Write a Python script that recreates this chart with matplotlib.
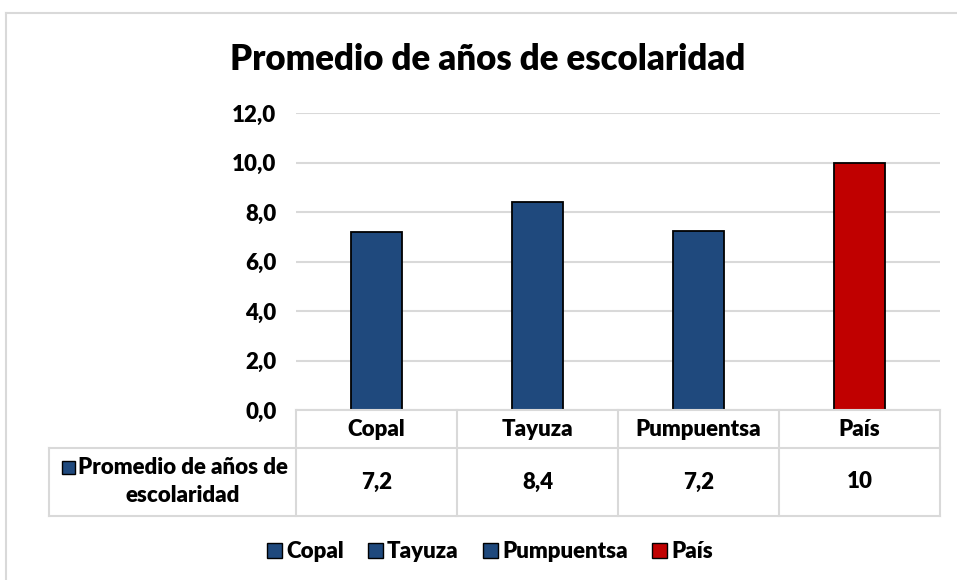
import matplotlib.pyplot as plt
from matplotlib.patches import Rectangle, Patch
from matplotlib.lines import Line2D

categories = ["Copal", "Tayuza", "Pumpuentsa", "País"]
values = [7.19, 8.39, 7.24, 10.0]
table_labels = ["7,2", "8,4", "7,2", "10"]
series_lines = ["Promedio de años de", "escolaridad"]
title = "Promedio de años de escolaridad"
yticks = [0, 2, 4, 6, 8, 10, 12]

blue = "#1F497D"
red = "#C00000"
bar_colors = [blue, blue, blue, red]
grid_c = "#D9D9D9"

plt.rcParams['font.family'] = ['Lato', 'DejaVu Sans']
wt = 'heavy'
fs = 16

W, H = 957, 580
fig = plt.figure(figsize=(9.57, 5.8), dpi=100)

def fx(px):
    return px / W

def fy(py):
    return 1 - py / H

# plot area
left, right, top, bottom = 296, 940, 113, 410
ax = fig.add_axes([fx(left), fy(bottom), fx(right - left), fy(top) - fy(bottom)])
x = range(len(categories))
ax.bar(x, values, width=0.315, color=bar_colors, edgecolor="black", linewidth=1.3, zorder=3)
ax.set_xlim(-0.5, len(categories) - 0.5)
ax.set_ylim(0, 12)
ax.set_yticks(yticks)
ax.set_yticklabels([f"{v:.1f}".replace(".", ",") for v in yticks], fontsize=fs, fontweight=wt)
ax.tick_params(axis='y', length=0, pad=14)
ax.set_xticks([])
ax.yaxis.grid(True, color=grid_c, linewidth=1.5, zorder=0)
for s in ax.spines.values():
    s.set_visible(False)

# data table under the plot
tleft, tmid, tbot = 49, 448, 516
col_w = (right - left) / len(categories)
lw = 1.5
lines = []
lines.append(([fx(left), fx(right)], [fy(bottom), fy(bottom)]))
lines.append(([fx(tleft), fx(right)], [fy(tmid), fy(tmid)]))
lines.append(([fx(tleft), fx(right)], [fy(tbot), fy(tbot)]))
lines.append(([fx(tleft), fx(tleft)], [fy(tmid), fy(tbot)]))
for i in range(len(categories) + 1):
    xp = left + i * col_w
    lines.append(([fx(xp), fx(xp)], [fy(bottom), fy(tbot)]))
for xs, ys in lines:
    fig.add_artist(Line2D(xs, ys, color=grid_c, linewidth=lw))

for i, (c, v) in enumerate(zip(categories, table_labels)):
    xc = fx(left + (i + 0.5) * col_w)
    fig.text(xc, fy(430), c, ha='center', va='center', fontsize=fs, fontweight=wt)
    fig.text(xc, fy(482), v, ha='center', va='center', fontsize=fs, fontweight=wt)

t1 = fig.text(fx(183), fy(467), series_lines[0], ha='center', va='center', fontsize=fs, fontweight=wt)
fig.text(fx(183), fy(496), series_lines[1], ha='center', va='center', fontsize=fs, fontweight=wt)
fig.canvas.draw()
bb = t1.get_window_extent()
sq = 13
x0 = bb.x0 - 3 - sq
fig.add_artist(Rectangle((fx(x0), fy(467 + sq / 2)), fx(sq), fy(467 - sq / 2) - fy(467 + sq / 2),
                         facecolor=blue, edgecolor='black', linewidth=1))

# title
fig.text(fx(488), fy(60), title, ha='center', va='center', fontsize=25, fontweight=wt)

# legend
handles = [Patch(facecolor=c, edgecolor='black', linewidth=1) for c in bar_colors]
fig.legend(handles, categories, loc='center', bbox_to_anchor=(fx(490), fy(552)), ncol=4,
           frameon=False, handlelength=0.65, handleheight=0.65,
           handletextpad=0.2, columnspacing=1.1, prop={'weight': wt, 'size': fs})

# chart border
fig.add_artist(Line2D([fx(6), 1], [fy(13), fy(13)], color=grid_c, linewidth=1.5))
fig.add_artist(Line2D([fx(6), fx(6)], [fy(13), 0], color=grid_c, linewidth=1.5))

fig.savefig("out.png", dpi=100)
